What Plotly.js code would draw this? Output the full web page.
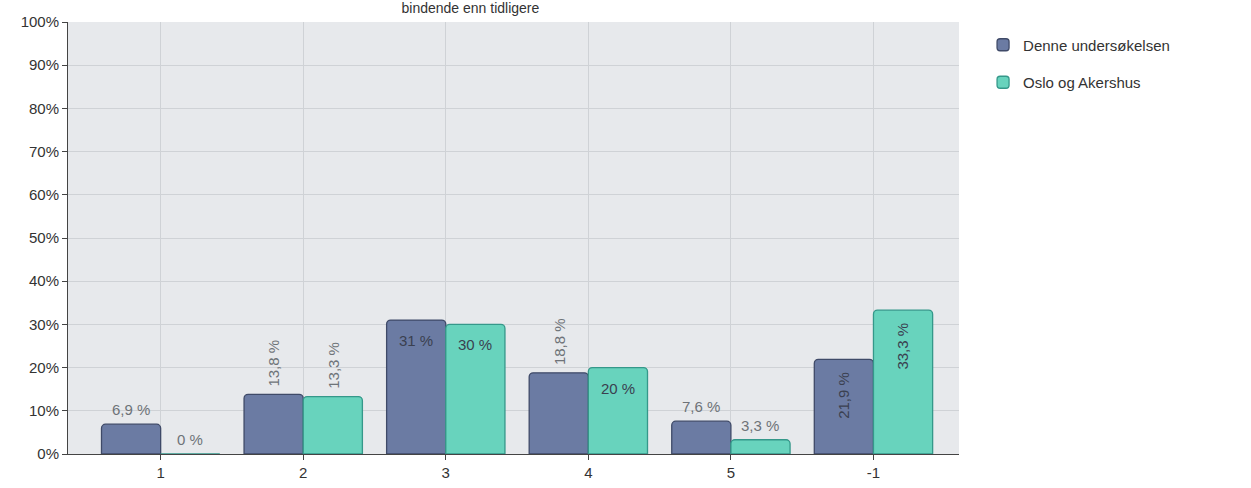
<!DOCTYPE html>
<html><head><meta charset="utf-8">
<script src="https://cdn.plot.ly/plotly-3.0.1.min.js"></script>
<style>body{margin:0;background:#fff}#c{width:1251px;height:488px}</style>
</head><body><div id="c"></div>
<script>
const categories = ['1','2','3','4','5','-1'];
const seriesNames = ['Denne undersøkelsen','Oslo og Akershus'];
const denne = [6.9, 13.8, 31, 18.8, 7.6, 21.9];
const oslo = [0, 13.3, 30, 20, 3.3, 33.3];
const denneLabels = ['6,9 %','13,8 %','31 %','18,8 %','7,6 %','21,9 %'];
const osloLabels = ['0 %','13,3 %','30 %','20 %','3,3 %','33,3 %'];
// label style: 'h' horizontal above, 'v' vertical above, 'hi' horizontal inside, 'vi' vertical inside
const denneStyle = ['h','v','hi','v','h','vi'];
const osloStyle = ['h','v','hi','hi','h','vi'];
const yTicks = [0,10,20,30,40,50,60,70,80,90,100];

const idx = categories.map((c,i)=>i);
const half = 0.207;
const annotations = [];
function addLabels(vals, labels, styles, off){
  vals.forEach((v,i)=>{
    const s = styles[i];
    const a = {xref:'x', yref:'y', x:i+off, y:v, text:labels[i], showarrow:false,
      font:{family:'Liberation Sans, Arial, sans-serif', size:15, color:'#6e7378'}};
    if(s==='h'){ a.yanchor='bottom'; a.yshift=4; }
    else if(s==='v'){ a.textangle=-90; a.yanchor='bottom'; a.yshift=6; }
    else if(s==='hi'){ a.yanchor='top'; a.yshift=-10; a.font.color='#3a4050'; }
    else if(s==='vi'){ a.textangle=-90; a.yanchor='top'; a.yshift=-10; a.font.color='#3a4050'; }
    annotations.push(a);
  });
}
addLabels(denne, denneLabels, denneStyle, -half);
addLabels(oslo, osloLabels, osloStyle, half);

const traces = [
  {type:'bar', name:seriesNames[0], x:idx, y:denne, legendgroup:'a',
   marker:{color:'#6b7ba3', line:{color:'#3f4a68', width:1.3}}},
  {type:'bar', name:seriesNames[1], x:idx, y:oslo, legendgroup:'b',
   marker:{color:'#68d3bd', line:{color:'#35988a', width:1.3}}}
];
const layout = {
  width:1251, height:488,
  margin:{l:68, r:292, t:22, b:34},
  paper_bgcolor:'#ffffff', plot_bgcolor:'#e7e9ec',
  barmode:'group', bargap:0.17, bargroupgap:0, barcornerradius:4,
  font:{family:'Liberation Sans, Arial, sans-serif', size:15, color:'#333'},
  title:{text:'bindende enn tidligere', x:0.376, xref:'container', xanchor:'center',
         y:0.993, yref:'container', yanchor:'top', font:{size:14, color:'#333'}},
  xaxis:{tickmode:'array', tickvals:idx, ticktext:categories, range:[-0.65,5.6],
         showgrid:true, gridcolor:'#cfd2d6', zeroline:false,
         showline:true, linecolor:'#444', linewidth:1, mirror:false,
         ticks:'outside', ticklen:5, tickcolor:'#444', tickfont:{size:15, color:'#333'}},
  yaxis:{range:[0,100], tickmode:'array', tickvals:yTicks, ticktext:yTicks.map(v=>v+'%'),
         showgrid:true, gridcolor:'#cfd2d6', zeroline:false,
         showline:true, linecolor:'#444', linewidth:1,
         ticks:'outside', ticklen:5, tickcolor:'#444', tickfont:{size:15, color:'#333'}},
  showlegend:true,
  legend:{x:1.027, y:0.985, xanchor:'left', yanchor:'top', font:{size:15, color:'#333'},
          bgcolor:'rgba(0,0,0,0)', tracegroupgap:15, itemwidth:30},
  annotations:annotations
};
Plotly.newPlot('c', traces, layout, {displayModeBar:false});
</script></body></html>
